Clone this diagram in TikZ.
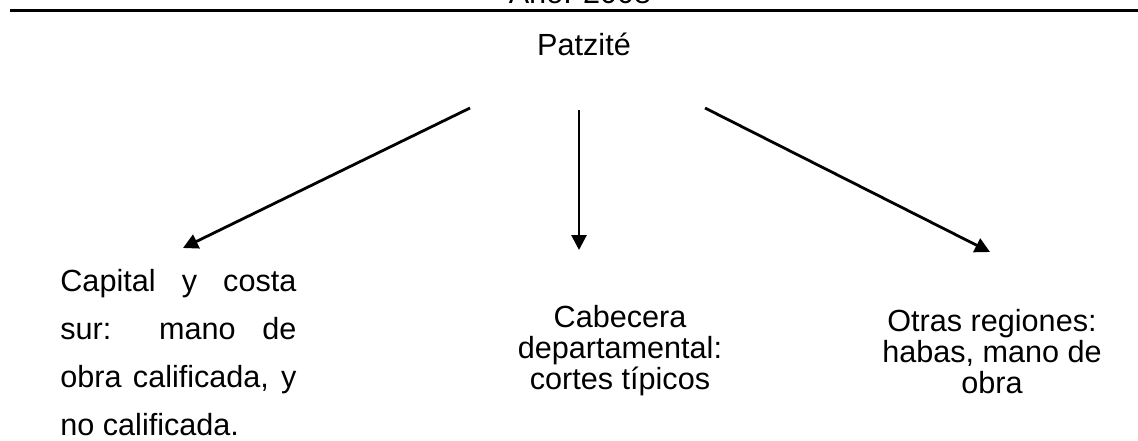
\documentclass[tikz,border=0pt]{standalone}
\usepackage{fontspec}
\setmainfont{Liberation Sans}
\usetikzlibrary{arrows.meta}
\tikzset{
  lbl/.style={inner sep=0pt, font=\fontsize{15.3}{15.4}\selectfont},
  conn/.style={line width=1.4pt, -{Triangle[length=7.5pt,width=7.5pt]}},
  rule/.style={line width=1.5pt}
}
\begin{document}
\begin{tikzpicture}[x=0.5pt,y=-0.5pt]
\clip (0,0) rectangle (1138,440);
\fill[white] (0,0) rectangle (1138,440);
% header (cut off at the top)
\node[lbl, anchor=base] (year) at (580,3) {Año: 2008};
\coordinate (rl) at (10,10);
\coordinate (rr) at (1138,10);
\draw[rule] (rl) -- (rr);
% root
\node[lbl, anchor=base] (root) at (584,55) {Patzité};
% targets
\node[lbl, anchor=north west, text width=118pt, align=justify,
      font=\fontsize{15.3}{24}\selectfont] (left) at (60,269)
  {Capital y costa\linebreak sur: mano de\linebreak obra calificada, y\linebreak no calificada.};
\node[lbl, anchor=north, align=center] (mid) at (620,305)
  {Cabecera\\departamental:\\cortes típicos};
\node[lbl, anchor=north, align=center] (right) at (992,309)
  {Otras regiones:\\habas, mano de\\obra};
% connector end points
\coordinate (s1) at (470,108);
\coordinate (e1) at (183,248);
\coordinate (s2) at (579,110);
\coordinate (e2) at (579,250);
\coordinate (s3) at (705,108);
\coordinate (e3) at (990,252);
\draw[conn] (s1) -- (e1);
\draw[conn] (s2) -- (e2);
\draw[conn] (s3) -- (e3);
\end{tikzpicture}
\end{document}
